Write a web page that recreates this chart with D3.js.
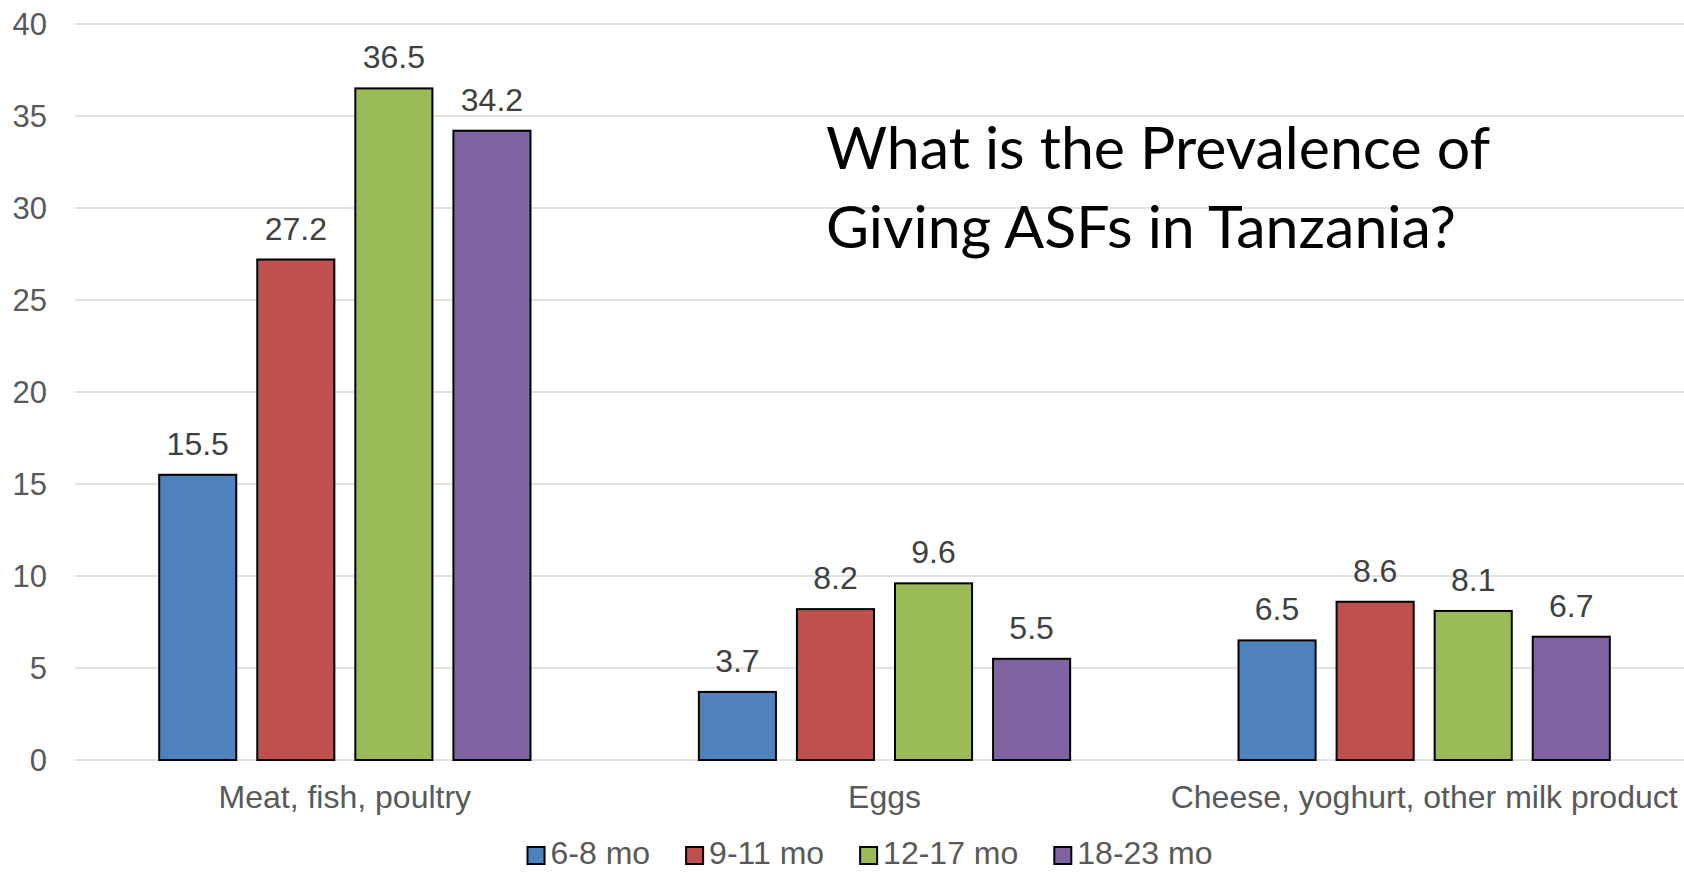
<!DOCTYPE html>
<html>
<head>
<meta charset="utf-8">
<script src="https://cdn.jsdelivr.net/npm/d3@7"></script>
<style>
  body { margin: 0; background: #fff; }
  svg { display: block; }
</style>
</head>
<body>
<div id="chart"></div>
<script>
// Data
const categories = ["Meat, fish, poultry", "Eggs", "Cheese, yoghurt, other milk product"];
const ageGroups = ["6-8 mo", "9-11 mo", "12-17 mo", "18-23 mo"];
const meatValues = [15.5, 27.2, 36.5, 34.2];
const eggValues = [3.7, 8.2, 9.6, 5.5];
const dairyValues = [6.5, 8.6, 8.1, 6.7];
const yTicks = [0, 5, 10, 15, 20, 25, 30, 35, 40];
const titleLines = ["What is the Prevalence of", "Giving ASFs in Tanzania?"];

const seriesByCategory = [meatValues, eggValues, dairyValues];
const rows = [];
categories.forEach((cat, i) => {
  ageGroups.forEach((age, j) => {
    rows.push({ Category: cat, Age: age, Value: seriesByCategory[i][j] });
  });
});

const width = 1684, height = 872;
const plot = { left: 75, right: 1694, top: 24, bottom: 760 };

const svg = d3.select("#chart")
  .append("svg")
  .attr("width", width)
  .attr("height", height)
  .style("font-family", "'Liberation Sans', Arial, sans-serif");

const x0 = d3.scaleBand()
  .domain(categories)
  .range([plot.left, plot.right])
  .paddingInner(0.312)
  .paddingOuter(0.156);

const x1 = d3.scaleBand()
  .domain(ageGroups)
  .range([0, x0.bandwidth()])
  .paddingInner(0.214);

const y = d3.scaleLinear()
  .domain([0, 40])
  .range([plot.bottom, plot.top]);

const colors = d3.scaleOrdinal()
  .domain(ageGroups)
  .range(["#4F81BD", "#C0504D", "#9BBB59", "#8064A2"]);

// gridlines
svg.append("g")
  .selectAll("line")
  .data(yTicks)
  .enter()
  .append("line")
    .attr("x1", plot.left)
    .attr("x2", plot.right)
    .attr("y1", d => y(d))
    .attr("y2", d => y(d))
    .attr("stroke", "#d9d9d9")
    .attr("stroke-width", 1.7);

// y tick labels
svg.append("g")
  .selectAll("text")
  .data(yTicks)
  .enter()
  .append("text")
    .attr("x", 47)
    .attr("y", d => y(d))
    .attr("dy", "0.35em")
    .attr("text-anchor", "end")
    .attr("font-size", 31)
    .attr("fill", "#595959")
    .text(d => d);

// bars
const groups = svg.selectAll(".cat")
  .data(d3.groups(rows, d => d.Category))
  .enter()
  .append("g")
  .attr("class", "cat")
  .attr("transform", d => `translate(${x0(d[0])},0)`);

groups.selectAll("rect")
  .data(d => d[1])
  .enter()
  .append("rect")
    .attr("x", d => x1(d.Age))
    .attr("y", d => y(d.Value))
    .attr("width", x1.bandwidth())
    .attr("height", d => y(0) - y(d.Value))
    .attr("fill", d => colors(d.Age))
    .attr("stroke", "#000")
    .attr("stroke-width", 2);

groups.selectAll(".lbl")
  .data(d => d[1])
  .enter()
  .append("text")
    .attr("class", "lbl")
    .attr("x", d => x1(d.Age) + x1.bandwidth() / 2)
    .attr("y", d => y(d.Value) - 20)
    .attr("text-anchor", "middle")
    .attr("font-size", 32)
    .attr("fill", "#404040")
    .text(d => d.Value.toFixed(1));

// category labels
svg.append("g")
  .selectAll("text")
  .data(categories)
  .enter()
  .append("text")
    .attr("x", d => x0(d) + x0.bandwidth() / 2)
    .attr("y", 808)
    .attr("text-anchor", "middle")
    .attr("font-size", 32)
    .attr("fill", "#595959")
    .text(d => d);

// title
svg.append("g")
  .selectAll("text")
  .data(titleLines)
  .enter()
  .append("text")
    .attr("x", 826)
    .attr("y", (d, i) => 169 + i * 79)
    .attr("font-family", "Lato, 'Open Sans', sans-serif")
    .attr("font-size", 59)
    .attr("fill", "#000")
    .text(d => d);

// legend
const legend = svg.append("g");
let lx = 0;
ageGroups.forEach(age => {
  const item = legend.append("g").attr("transform", `translate(${lx},0)`);
  item.append("rect")
    .attr("x", 0)
    .attr("y", 847)
    .attr("width", 17)
    .attr("height", 17)
    .attr("fill", colors(age))
    .attr("stroke", "#000")
    .attr("stroke-width", 2);
  const t = item.append("text")
    .attr("x", 23)
    .attr("y", 864)
    .attr("font-size", 32)
    .attr("fill", "#595959")
    .text(age);
  lx += 23 + t.node().getComputedTextLength() + 36;
});
const legendWidth = lx - 36;
legend.attr("transform", `translate(${870 - legendWidth / 2},0)`);
</script>
</body>
</html>
